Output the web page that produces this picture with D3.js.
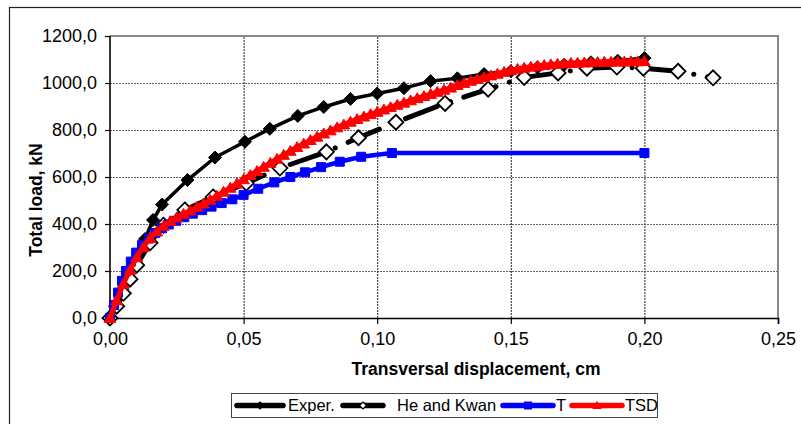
<!DOCTYPE html>
<html><head><meta charset="utf-8">
<script src="https://cdn.jsdelivr.net/npm/d3@7"></script>
<style>body{margin:0;background:#fff}svg{display:block;font-family:"Liberation Sans",Arial,sans-serif}</style>
</head><body><svg id="c" width="801" height="424"></svg>
<script>
const xTicks=[0,0.05,0.10,0.15,0.20,0.25];
const yTicks=[0,200,400,600,800,1000,1200];
const seriesNames=["Exper.","He and Kwan","T","TSD"];
const xTitle="Transversal displacement, cm";
const yTitle="Total load, kN";

const experX=[0,0.0045,0.009,0.0131,0.0161,0.0195,0.029,0.0393,0.0505,0.0598,0.0703,0.080,0.090,0.100,0.110,0.120,0.130,0.140,0.150,0.160,0.170,0.180,0.190,0.200];
const experY=[0,120,240,336,417,483,587,683,750,805,860,898,932,955,978,1008,1020,1038,1050,1066,1078,1088,1095,1106];

const heX=[0,0.0025,0.005,0.0075,0.010,0.015,0.020,0.028,0.0386,0.051,0.0636,0.081,0.093,0.107,0.1254,0.1415,0.155,0.1677,0.1785,0.1897,0.1996,0.2126,0.2257];
const heY=[0,50,105,165,225,320,395,460,515,574,638,707,767,833,913,974,1024,1043,1063,1068,1063,1050,1022];

const tX=[0,0.0015,0.003,0.0045,0.006,0.0078,0.0098,0.012,0.0145,0.017,0.0195,0.022,0.0248,0.0278,0.031,0.0345,0.038,0.0418,0.0458,0.050,0.0555,0.0615,0.0675,0.073,0.079,0.086,0.094,0.1055,0.200];
const tY=[0,55,108,158,200,240,278,310,338,362,382,398,414,429,444,459,474,489,505,524,550,577,600,620,642,665,686,702,702];

const tsdX=[0,0.0025,0.005,0.0075,0.01,0.0125,0.015,0.0175,0.02,0.0225,0.025,0.0275,0.03,0.0325,0.035,0.0375,0.04,0.0425,0.045,0.0475,0.05,0.0525,0.055,0.0575,0.06,0.0625,0.065,0.0675,0.07,0.0725,0.075,0.0775,0.08,0.0825,0.085,0.0875,0.09,0.0925,0.095,0.0975,0.1,0.1025,0.105,0.1075,0.11,0.1125,0.115,0.1175,0.12,0.1225,0.125,0.1275,0.13,0.1325,0.135,0.1375,0.14,0.1425,0.145,0.1475,0.15,0.1525,0.155,0.1575,0.16,0.1625,0.165,0.1675,0.17,0.1725,0.175,0.1775,0.18,0.1825,0.185,0.1875,0.19,0.1925,0.195,0.1975,0.2];
const tsdY=[0,75,145,205,258,302,340,368,392,412,428,443,457,472,487,503,520,537,554,572,590,608,625,643,660,677,694,711,727,742,757,771,785,798,811,823,835,846,857,867,877,887,897,907,916,926,935,944,953,962,971,980,991,1000,1009,1017,1025,1032,1039,1047,1054,1060,1065,1069,1073,1076,1079,1081,1083,1085,1086,1087,1088,1089,1090,1090,1091,1091,1092,1092,1093];

const svg=d3.select("#c");
const x=d3.scaleLinear().domain([0,0.25]).range([110,778]);
const y=d3.scaleLinear().domain([0,1200]).range([318,36]);
const fmt=(d,p)=>d3.format("."+p+"f")(d).replace(".",",");
const pts=(xs,ys)=>xs.slice(0,Math.min(xs.length,ys.length)).map((v,i)=>[v,ys[i]]);

// outer frame
svg.append("rect").attr("x",9.5).attr("y",7.5).attr("width",900).attr("height",600)
  .attr("fill","none").attr("stroke","#222").attr("stroke-width",1.2);

// grid
svg.append("g").selectAll("line").data(yTicks.filter(d=>d>0&&d<1200)).join("line")
  .attr("x1",x(0)).attr("x2",x(0.25)).attr("y1",d=>y(d)+0.5).attr("y2",d=>y(d)+0.5)
  .attr("stroke","#666").attr("stroke-dasharray","2,1").attr("stroke-width",1);
svg.append("g").selectAll("line").data(xTicks.filter(d=>d>0&&d<0.25)).join("line")
  .attr("x1",d=>x(d)+0.5).attr("x2",d=>x(d)+0.5).attr("y1",y(0)).attr("y2",y(1200))
  .attr("stroke","#222").attr("stroke-dasharray","2,1").attr("stroke-width",1);

// plot border top/right
svg.append("path").attr("d",`M${x(0)},${y(1200)}H${x(0.25)}V${y(0)}`)
  .attr("fill","none").attr("stroke","#888").attr("stroke-width",2);

// axes
const ya=svg.append("g").attr("transform",`translate(${x(0)},0)`)
  .call(d3.axisLeft(y).tickValues(yTicks).tickFormat(d=>fmt(d,1)).tickSize(5).tickPadding(8));
const xa=svg.append("g").attr("transform",`translate(0,${y(0)})`)
  .call(d3.axisBottom(x).tickValues(xTicks).tickFormat(d=>fmt(d,2)).tickSize(6).tickPadding(8));
[ya,xa].forEach(g=>{
  g.select(".domain").attr("stroke","#000").attr("stroke-width",1.6);
  g.selectAll(".tick line").attr("stroke","#000").attr("stroke-width",1.2);
  g.selectAll(".tick text").attr("font-size",18).attr("fill","#000").attr("font-family","Liberation Sans, Arial, sans-serif");
});
ya.select(".domain").attr("d",`M0,${y(0)}V${y(1200)}`);
ya.selectAll(".tick text").attr("x",-13);

// titles
svg.append("text").attr("x",476).attr("y",375).attr("text-anchor","middle")
  .attr("font-size",17.5).attr("font-weight","bold").text(xTitle);
svg.append("text").attr("transform","translate(42,200) rotate(-90)").attr("text-anchor","middle")
  .attr("font-size",17.5).attr("font-weight","bold").text(yTitle);

// marker shapes
const diamond=r=>`M0,${-r}L${r},0L0,${r}L${-r},0Z`;
const square=r=>`M${-r},${-r}H${r}V${r}H${-r}Z`;
const tri=r=>`M0,${-r}L${r*1.05},${r*0.8}L${-r*1.05},${r*0.8}Z`;
const line=d3.line().x(d=>x(d[0])).y(d=>y(d[1]));

const series=[
 {name:seriesNames[0],data:pts(experX,experY),color:"#000",w:3.5,dash:null,shape:diamond,r:6.5,fill:"#000",stroke:"#000",sw:1,lr:3.5},
 {name:seriesNames[1],data:pts(heX,heY),color:"#000",w:5,dash:"34,14,0.1,14",shape:diamond,r:7.5,fill:"#fff",stroke:"#000",sw:1.8,lr:3.5},
 {name:seriesNames[2],data:pts(tX,tY),color:"#0000ff",w:4.5,dash:null,shape:square,r:4.5,fill:"#0000ff",stroke:"#0000ff",sw:1,lr:3.5},
 {name:seriesNames[3],data:pts(tsdX,tsdY),color:"#ff0000",w:5,dash:null,shape:tri,r:5.5,fill:"#ff0000",stroke:"#ff0000",sw:1,lr:3.5}
];

series.forEach(s=>{
  const g=svg.append("g");
  g.append("path").attr("d",line(s.data)).attr("fill","none").attr("stroke",s.color)
    .attr("stroke-width",s.w).attr("stroke-linejoin","round").attr("stroke-linecap","round")
    .attr("stroke-dasharray",s.dash);
  g.selectAll("path.m").data(s.data).join("path").attr("class","m")
    .attr("transform",d=>`translate(${x(d[0])},${y(d[1])})`)
    .attr("d",s.shape(s.r)).attr("fill",s.fill).attr("stroke",s.stroke).attr("stroke-width",s.sw);
});

// legend
const lg=svg.append("g");
lg.append("rect").attr("x",231.5).attr("y",393.5).attr("width",426).attr("height",24)
  .attr("fill","#fff").attr("stroke","#444").attr("stroke-width",1);
const lpos=[{x1:237,x2:283,tx:288},{x1:343,x2:383,tx:397},{x1:503,x2:553,tx:556},{x1:572,x2:622,tx:625}];
series.forEach((s,i)=>{
  const p=lpos[i],cy=405.5;
  lg.append("line").attr("x1",p.x1).attr("x2",p.x2).attr("y1",cy).attr("y2",cy)
    .attr("stroke",s.color).attr("stroke-width",5.5).attr("stroke-linecap","round");
  lg.append("path").attr("transform",`translate(${(p.x1+p.x2)/2},${cy})`).attr("d",s.shape(s.lr))
    .attr("fill",s.fill).attr("stroke",s.stroke).attr("stroke-width",1.2);
  lg.append("text").attr("x",p.tx).attr("y",cy).attr("dy","0.36em").attr("font-size",16.5).text(s.name);
});
</script></body></html>
